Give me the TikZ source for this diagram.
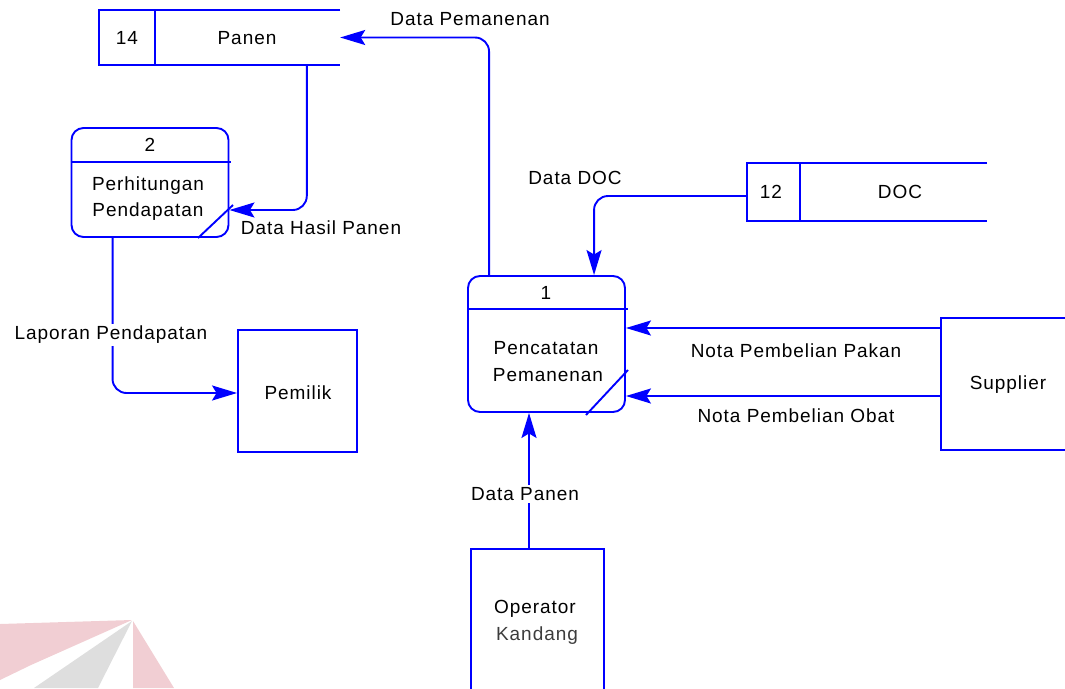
\documentclass[tikz,border=0pt]{standalone}
\usepackage{fontspec}
\setmainfont{Liberation Sans}[LetterSpace=5]
\usetikzlibrary{arrows.meta,calc}

\definecolor{dfdblue}{RGB}{0,0,255}
\definecolor{markpink}{RGB}{241,206,211}
\definecolor{markgray}{RGB}{222,222,222}
\definecolor{softblack}{RGB}{60,60,60}

\tikzset{
  wire/.style={draw=dfdblue, line width=1.9pt},
  flow/.style={wire, -{Stealth[length=25pt,width=15pt,inset=4.5pt]}, rounded corners=14pt},
  txt/.style={inner sep=1pt, text=black},
  flowlabel/.style={txt, fill=white, inner sep=2pt},
  procbox/.style={wire, rounded corners=12pt, minimum width=157pt, inner sep=0pt},
  entitybox/.style={wire, inner sep=0pt},
  storebox/.style={inner sep=0pt}
}

\begin{document}
\begin{tikzpicture}[x=1pt, y=-1pt, font=\fontsize{19}{23}\selectfont]
\useasboundingbox (0,0) rectangle (1065,688);

% faded logo in the lower left corner
\fill[markpink] (0,624) -- (132,620) -- (31,665) -- (0,680) -- cycle;
\fill[markgray] (132,621) -- (98,688) -- (34,688) -- cycle;
\fill[markpink] (133,621) -- (174,688) -- (133,688) -- cycle;

% data store 14: Panen
\node[storebox, minimum width=241pt, minimum height=55pt] (panen) at (219.5,37.5) {};
\draw[wire] (panen.north east) -- (panen.north west) -- (panen.south west) -- (panen.south east);
\draw[wire] ([xshift=56pt]panen.north west) -- ([xshift=56pt]panen.south west);
\node[txt] (panenid) at (127,38) {14};
\node[txt] (panenname) at (247,38) {Panen};

% data store 12: DOC
\node[storebox, minimum width=240pt, minimum height=58pt] (doc) at (867,192) {};
\draw[wire] (doc.north east) -- (doc.north west) -- (doc.south west) -- (doc.south east);
\draw[wire] ([xshift=53pt]doc.north west) -- ([xshift=53pt]doc.south west);
\node[txt] (docid) at (771,192) {12};
\node[txt] (docname) at (900,192) {DOC};

% process 2
\node[procbox, minimum height=109pt] (proc2) at (150,182.5) {};
\draw[wire] (proc2.west |- 0,162) -- ([xshift=2pt]proc2.east |- 0,162);
\node[txt] (proc2id) at (150,145) {2};
\node[txt] (proc2a) at (148,186) {Perhitungan};
\node[txt] (proc2b) at (148,212) {Pendapatan};
\draw[wire] (198,238) -- (233,205);

% process 1
\node[procbox, minimum height=136pt] (proc1) at (546.5,344) {};
\draw[wire] (proc1.west |- 0,309) -- ([xshift=2pt]proc1.east |- 0,309);
\node[txt] (proc1id) at (546,293) {1};
\node[txt] (proc1a) at (546,348) {Pencatatan};
\node[txt] (proc1b) at (548,375) {Pemanenan};
\draw[wire] (586,415) -- (628,370);

% external entities
\node[entitybox, minimum width=119pt, minimum height=122pt] (pemilik) at (297.5,391) {};
\node[txt] (pemiliktxt) at (298,393) {Pemilik};

\node[entitybox, minimum width=140pt, minimum height=132pt] (supplier) at (1011,384) {};
\node[txt] (suppliertxt) at (1008,385) {Supplier};

\node[entitybox, minimum width=133pt, minimum height=150pt] (operator) at (537.5,624) {};
\node[txt] (operatora) at (535,609) {Operator};
\node[txt, text=softblack] (operatorb) at (537,636) {Kandang};

% data flows
\draw[flow] ([xshift=22pt]proc1.north west) |- (panen.east);
\node[txt] (lblpemanenan) at (470,19) {Data Pemanenan};

\coordinate (hasilstart) at ([xshift=208pt]panen.south west);
\coordinate (hasilend) at ([yshift=-27.5pt]proc2.east);
\draw[flow] (hasilstart) |- (hasilend);
\node[txt] (lblhasil) at (321,228) {Data Hasil Panen};

\draw[flow] ([xshift=42pt]proc2.south west) |- ([yshift=-2pt]pemilik.west);
\node[flowlabel] (lbllaporan) at (111,335) {Laporan Pendapatan};

\draw[flow] ([yshift=-4pt]doc.west) -| ([xshift=127pt]proc1.north west);
\node[txt] (lbldoc) at (575,178) {Data DOC};

\coordinate (pakanstart) at ([yshift=56pt]supplier.west);
\coordinate (obatstart) at ([yshift=-12pt]supplier.west);
\draw[flow] (pakanstart) -- (pakanstart -| proc1.east);
\draw[flow] (obatstart) -- (obatstart -| proc1.east);
\node[txt] (lblpakan) at (796,351) {Nota Pembelian Pakan};
\node[txt] (lblobat) at (796,416) {Nota Pembelian Obat};

\coordinate (panenstart) at ([xshift=-8.5pt]operator.north);
\draw[flow] (panenstart) -- (panenstart |- proc1.south);
\node[flowlabel] (lblpanen) at (525,494) {Data Panen};

\end{tikzpicture}
\end{document}
